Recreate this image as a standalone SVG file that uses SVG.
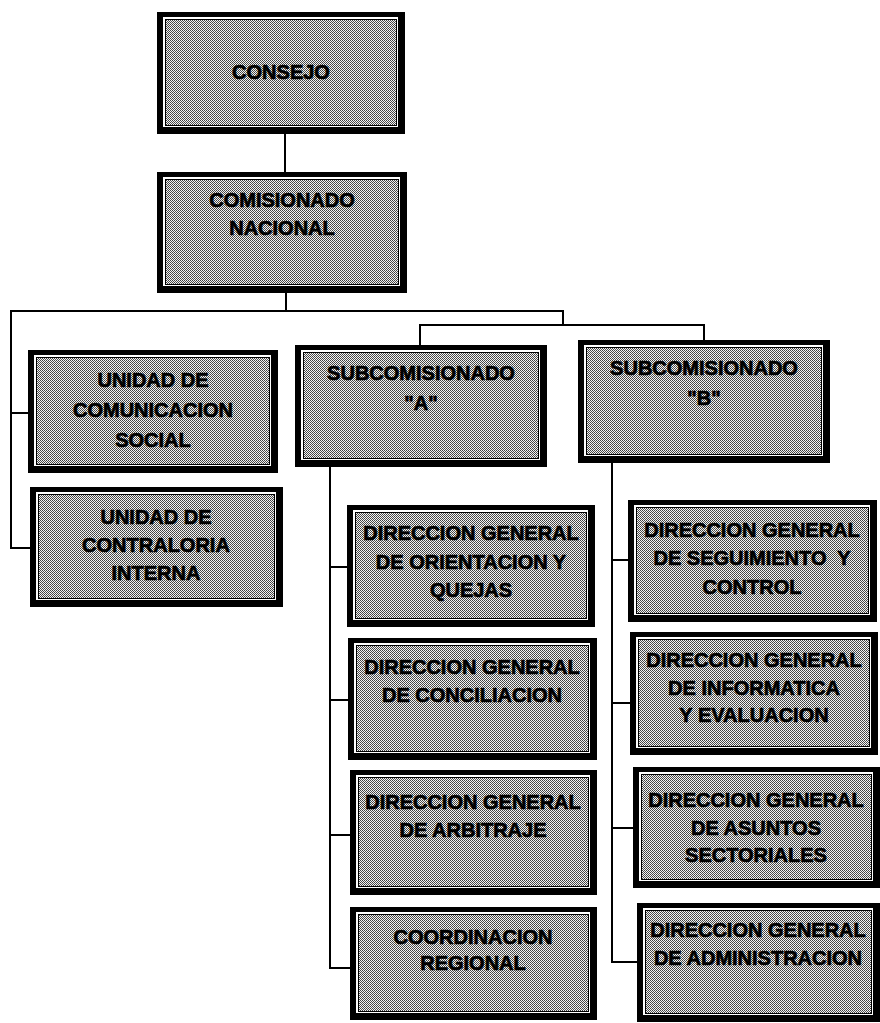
<svg xmlns="http://www.w3.org/2000/svg" width="880" height="1023" viewBox="0 0 880 1023">
<defs>
<pattern id="dith" width="2" height="2" patternUnits="userSpaceOnUse">
<rect width="2" height="2" fill="#f4f4f4"/>
<rect x="0" y="0" width="1" height="1" fill="#404040"/>
<rect x="1" y="1" width="1" height="1" fill="#505050"/>
</pattern>
<style>
.ob{fill:#000}
.wg{fill:#fff}
.fl{fill:url(#dith);stroke:#000;stroke-width:1}
.t{font-family:"Liberation Sans",Arial,sans-serif;font-weight:bold;font-size:20px;fill:#000;text-anchor:middle;stroke:#000;stroke-width:0.7px}
.c{fill:none;stroke:#000;stroke-width:2}
</style>
</defs>
<rect width="880" height="1023" fill="#fff"/>
<g id="connectors">
<path class="c" d="M285 134V172"/>
<path class="c" d="M286 293V311"/>
<path class="c" d="M10 311H563V325"/>
<path class="c" d="M420 345V325H704V340"/>
<path class="c" d="M11 310V548H30"/>
<path class="c" d="M11 413H28"/>
<path class="c" d="M330 467V968H350"/>
<path class="c" d="M330 567H347M330 700H348M330 835H350"/>
<path class="c" d="M612 463V962H637"/>
<path class="c" d="M612 560H628M612 703H630M612 828H633"/>
</g>
<g id="consejo">
<rect class="ob" x="157" y="12" width="248" height="122"/>
<rect class="wg" x="163" y="17" width="235" height="110"/>
<rect class="fl" x="165.5" y="19.5" width="231" height="106"/>
<text class="t"><tspan x="281" y="79">CONSEJO</tspan></text>
</g>
<g id="comisionado-nacional">
<rect class="ob" x="157" y="172" width="250" height="121"/>
<rect class="wg" x="163" y="177" width="237" height="109"/>
<rect class="fl" x="165.5" y="179.5" width="233" height="105"/>
<text class="t"><tspan x="282" y="207">COMISIONADO</tspan><tspan x="282" y="235">NACIONAL</tspan></text>
</g>
<g id="unidad-comunicacion">
<rect class="ob" x="28" y="350" width="250" height="123"/>
<rect class="wg" x="34" y="355" width="237" height="111"/>
<rect class="fl" x="36.5" y="357.5" width="233" height="107"/>
<text class="t"><tspan x="153" y="387">UNIDAD DE</tspan><tspan x="153" y="417">COMUNICACION</tspan><tspan x="153" y="447">SOCIAL</tspan></text>
</g>
<g id="unidad-contraloria">
<rect class="ob" x="30" y="487" width="253" height="120"/>
<rect class="wg" x="36" y="492" width="240" height="108"/>
<rect class="fl" x="38.5" y="494.5" width="236" height="104"/>
<text class="t"><tspan x="156" y="524">UNIDAD DE</tspan><tspan x="156" y="552">CONTRALORIA</tspan><tspan x="156" y="580">INTERNA</tspan></text>
</g>
<g id="subcomisionado-a">
<rect class="ob" x="295" y="345" width="252" height="122"/>
<rect class="wg" x="301" y="350" width="239" height="110"/>
<rect class="fl" x="303.5" y="352.5" width="235" height="106"/>
<text class="t"><tspan x="421" y="380">SUBCOMISIONADO</tspan><tspan x="421" y="410">"A"</tspan></text>
</g>
<g id="subcomisionado-b">
<rect class="ob" x="578" y="340" width="252" height="123"/>
<rect class="wg" x="584" y="345" width="239" height="111"/>
<rect class="fl" x="586.5" y="347.5" width="235" height="107"/>
<text class="t"><tspan x="704" y="375">SUBCOMISIONADO</tspan><tspan x="704" y="405">"B"</tspan></text>
</g>
<g id="dg-orientacion">
<rect class="ob" x="347" y="505" width="248" height="122"/>
<rect class="wg" x="353" y="510" width="235" height="110"/>
<rect class="fl" x="355.5" y="512.5" width="231" height="106"/>
<text class="t"><tspan x="471" y="540">DIRECCION GENERAL</tspan><tspan x="471" y="569">DE ORIENTACION Y</tspan><tspan x="471" y="597">QUEJAS</tspan></text>
</g>
<g id="dg-conciliacion">
<rect class="ob" x="348" y="638" width="249" height="122"/>
<rect class="wg" x="354" y="643" width="236" height="110"/>
<rect class="fl" x="356.5" y="645.5" width="232" height="106"/>
<text class="t"><tspan x="472" y="674">DIRECCION GENERAL</tspan><tspan x="472" y="702">DE CONCILIACION</tspan></text>
</g>
<g id="dg-arbitraje">
<rect class="ob" x="350" y="770" width="247" height="125"/>
<rect class="wg" x="356" y="775" width="234" height="113"/>
<rect class="fl" x="358.5" y="777.5" width="230" height="109"/>
<text class="t"><tspan x="473" y="809">DIRECCION GENERAL</tspan><tspan x="473" y="837">DE ARBITRAJE</tspan></text>
</g>
<g id="coordinacion-regional">
<rect class="ob" x="350" y="907" width="247" height="113"/>
<rect class="wg" x="356" y="912" width="234" height="101"/>
<rect class="fl" x="358.5" y="914.5" width="230" height="97"/>
<text class="t"><tspan x="473" y="944">COORDINACION</tspan><tspan x="473" y="970">REGIONAL</tspan></text>
</g>
<g id="dg-seguimiento">
<rect class="ob" x="628" y="500" width="249" height="122"/>
<rect class="wg" x="634" y="505" width="236" height="110"/>
<rect class="fl" x="636.5" y="507.5" width="232" height="106"/>
<text class="t"><tspan x="752" y="537">DIRECCION GENERAL</tspan><tspan x="752" y="565">DE SEGUIMIENTO&#160; Y</tspan><tspan x="752" y="594">CONTROL</tspan></text>
</g>
<g id="dg-informatica">
<rect class="ob" x="630" y="632" width="248" height="123"/>
<rect class="wg" x="636" y="637" width="235" height="111"/>
<rect class="fl" x="638.5" y="639.5" width="231" height="107"/>
<text class="t"><tspan x="754" y="667">DIRECCION GENERAL</tspan><tspan x="754" y="695">DE INFORMATICA</tspan><tspan x="754" y="722">Y EVALUACION</tspan></text>
</g>
<g id="dg-asuntos">
<rect class="ob" x="633" y="767" width="247" height="121"/>
<rect class="wg" x="639" y="772" width="234" height="109"/>
<rect class="fl" x="641.5" y="774.5" width="230" height="105"/>
<text class="t"><tspan x="756" y="807">DIRECCION GENERAL</tspan><tspan x="756" y="835">DE ASUNTOS</tspan><tspan x="756" y="862">SECTORIALES</tspan></text>
</g>
<g id="dg-administracion">
<rect class="ob" x="637" y="903" width="243" height="119"/>
<rect class="wg" x="643" y="908" width="230" height="107"/>
<rect class="fl" x="645.5" y="910.5" width="226" height="103"/>
<text class="t"><tspan x="758" y="937">DIRECCION GENERAL</tspan><tspan x="758" y="965">DE ADMINISTRACION</tspan></text>
</g>
</svg>
